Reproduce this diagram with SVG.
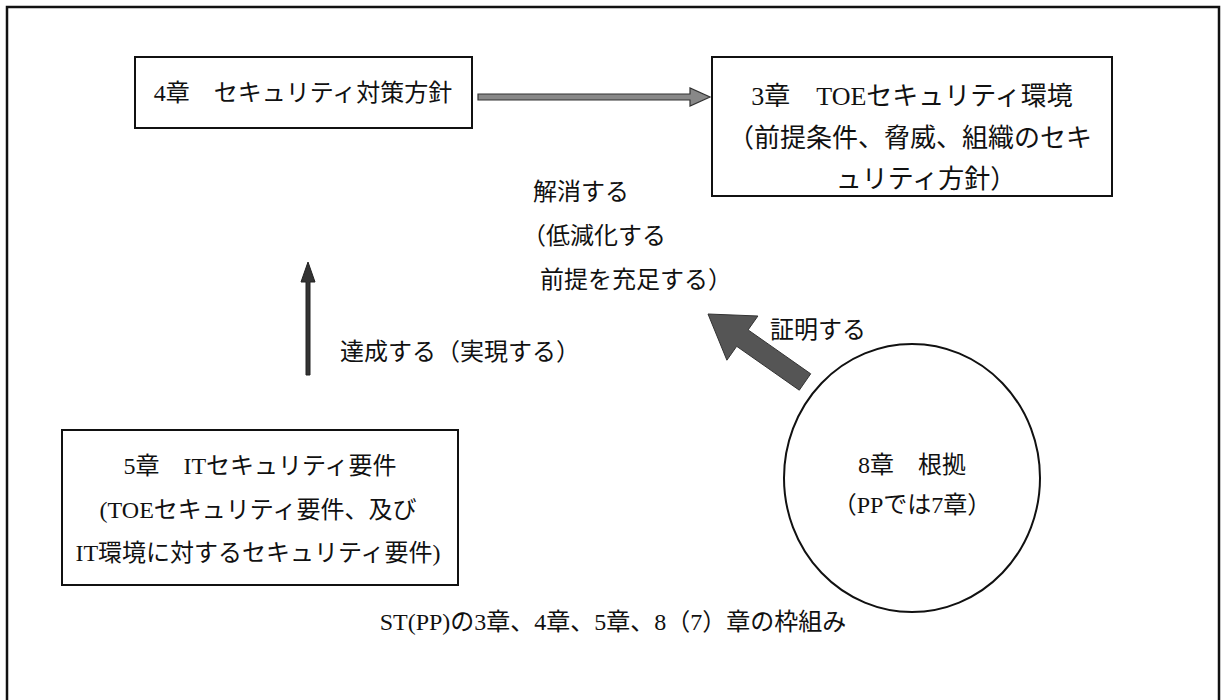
<svg xmlns="http://www.w3.org/2000/svg" width="1226" height="700" viewBox="0 0 1226 700">
<style>
.t{font-family:"Liberation Serif","Noto Sans CJK JP",serif;font-size:24px;fill:#111}
.l{font-size:26px}
.m{text-anchor:middle}
.box{fill:#fff;stroke:#111;stroke-width:2}
</style>
<rect width="1226" height="700" fill="#fff"/>
<rect x="7" y="7" width="1212" height="700" fill="none" stroke="#111" stroke-width="2.5"/>
<g id="ch4">
<rect class="box" x="135" y="57" width="337" height="71"/>
<text class="t m" x="303" y="101">4章　セキュリティ対策方針</text>
</g>
<g id="ch3">
<rect class="box" x="712" y="57" width="400" height="139"/>
<text class="t l m" x="912" y="105">3章　TOEセキュリティ環境</text>
<text class="t l m" x="910" y="147">（前提条件、脅威、組織のセキ</text>
<text class="t l m" x="926" y="188">ュリティ方針）</text>
</g>
<g id="ch5">
<rect class="box" x="62" y="430" width="396" height="155"/>
<text class="t m" x="260" y="474">5章　ITセキュリティ要件</text>
<text class="t m" x="258" y="518">(TOEセキュリティ要件、及び</text>
<text class="t m" x="258" y="561">IT環境に対するセキュリティ要件)</text>
</g>
<g id="ch8">
<ellipse cx="912" cy="478" rx="128" ry="134" fill="#fff" stroke="#111" stroke-width="2"/>
<text class="t m" x="912" y="473">8章　根拠</text>
<text class="t m" x="912" y="513">（PPでは7章）</text>
</g>
<g id="connectors">
<polygon points="478,94 690,94 690,88 710,97 690,106 690,100 478,100" fill="#888" stroke="#333" stroke-width="1.2"/>
<polygon points="306,375 306,282 301,282 308,262 315,282 310,282 310,375" fill="#333" stroke="#222" stroke-width="1"/>
<polygon points="708,314 757.9,316 748.1,329.9 810.7,373.8 799.3,390.2 736.7,346.3 726.9,360.2" fill="#555" stroke="#333" stroke-width="1"/>
</g>
<g id="labels">
<text class="t" x="533" y="200">解消する</text>
<text class="t" x="522" y="244">（低減化する</text>
<text class="t" x="540" y="288">前提を充足する）</text>
<text class="t" x="340" y="360">達成する（実現する）</text>
<text class="t" x="770" y="338">証明する</text>
<text class="t m" x="613" y="630">ST(PP)の3章、4章、5章、8（7）章の枠組み</text>
</g>
</svg>
